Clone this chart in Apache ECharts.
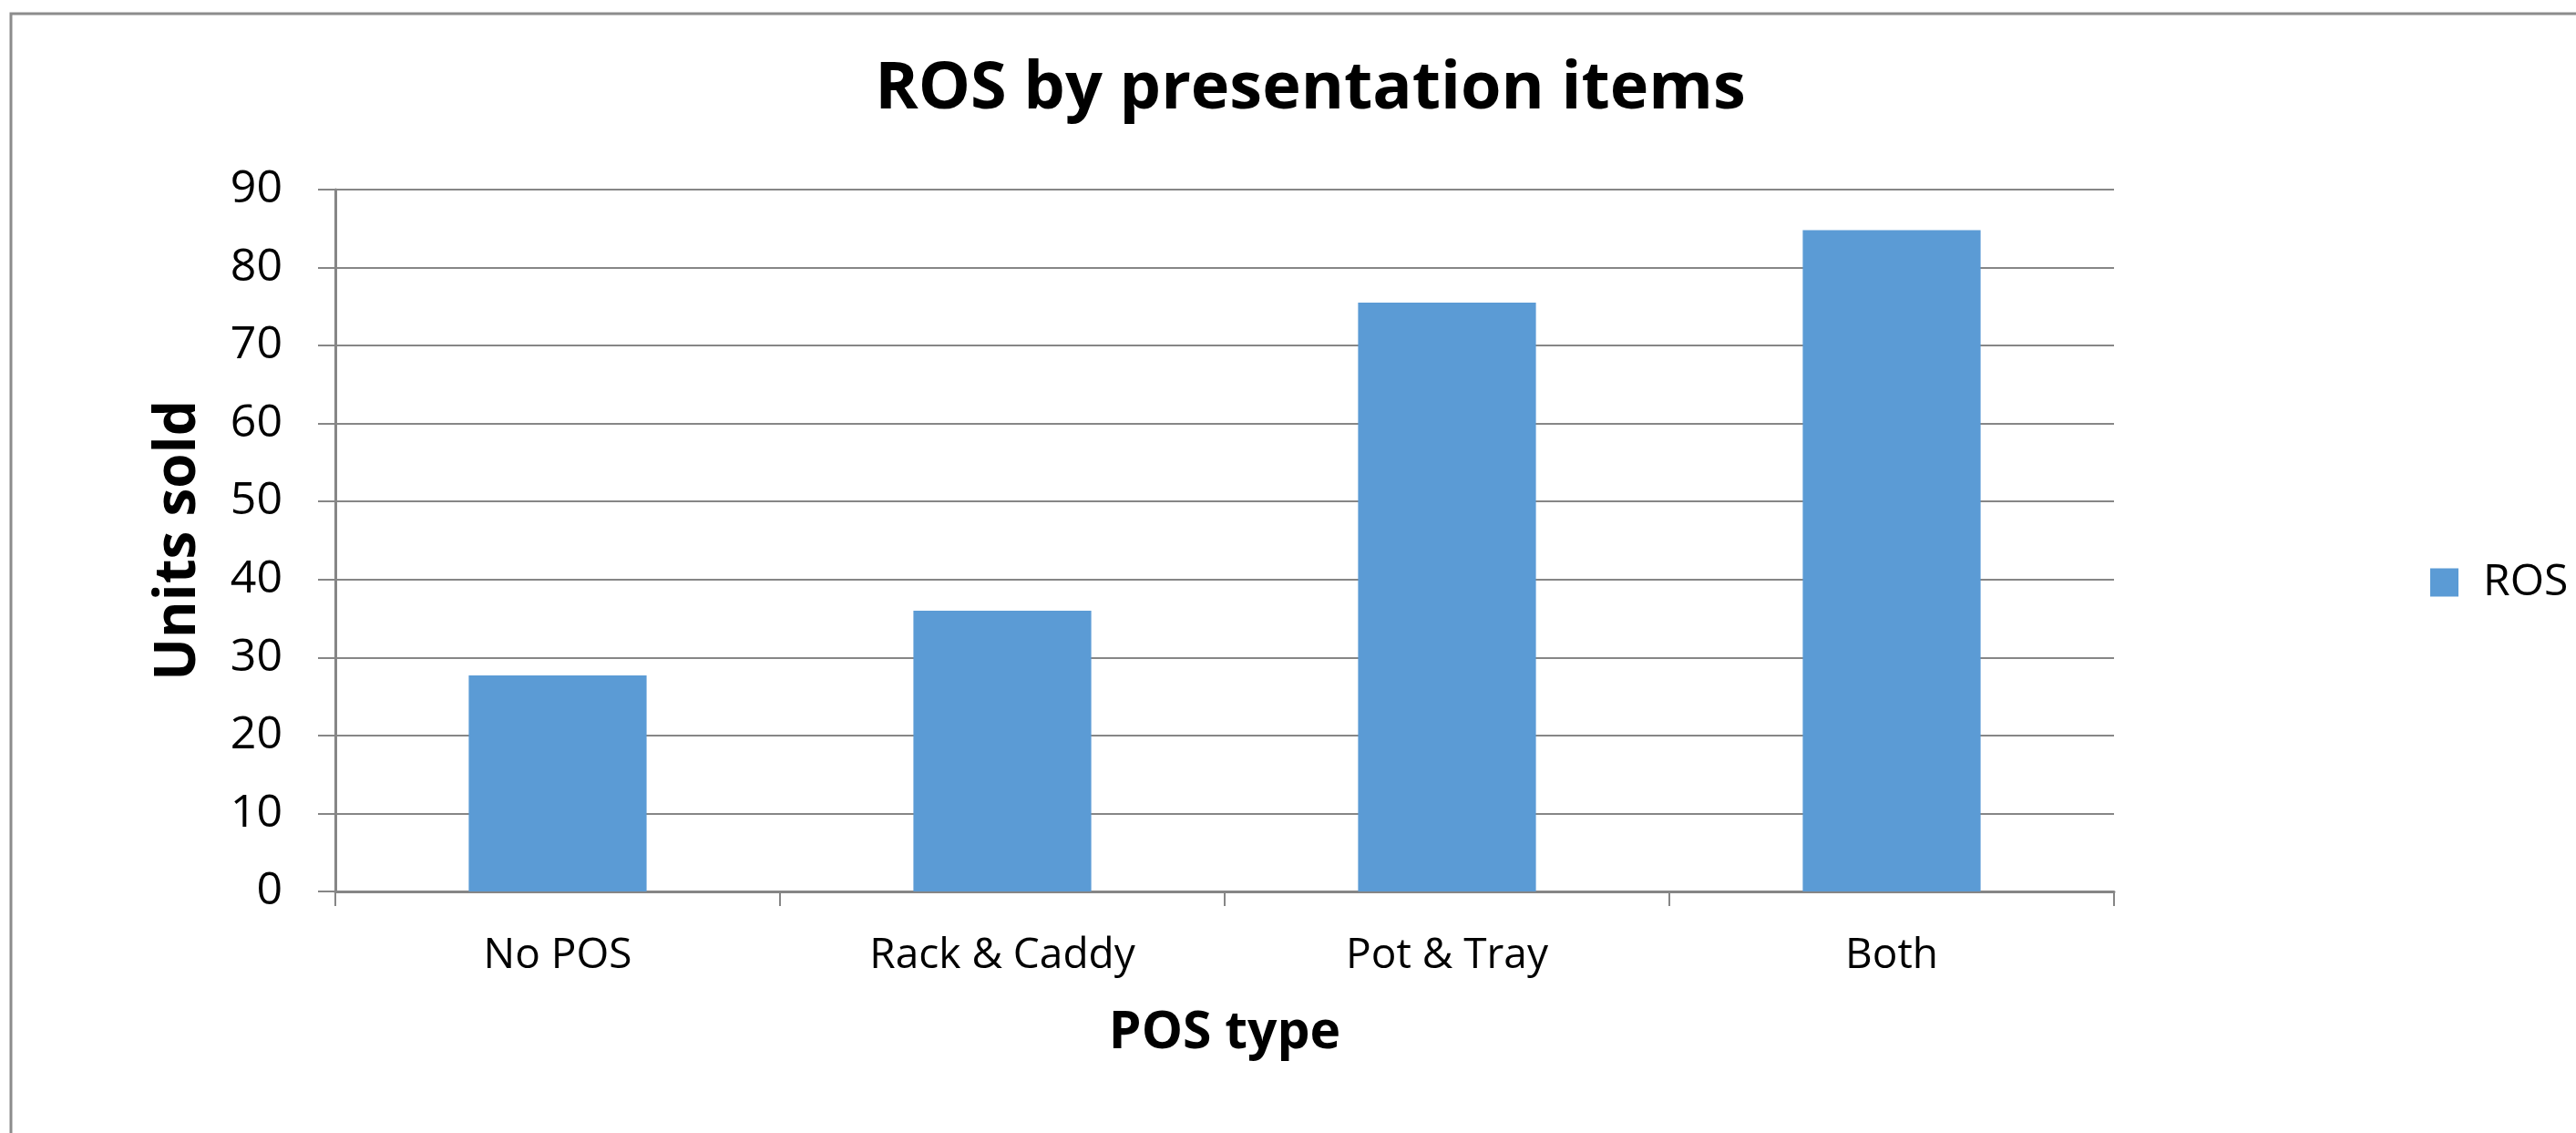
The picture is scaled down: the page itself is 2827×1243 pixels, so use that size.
<!DOCTYPE html>
<html>
<head>
<meta charset="utf-8">
<script src="https://cdn.jsdelivr.net/npm/echarts@6/dist/echarts.min.js"></script>
<style>
html,body{margin:0;padding:0;background:#fff;}
#chart{width:2827px;height:1243px;}
</style>
</head>
<body>
<div id="chart"></div>
<script>
const categories = ['No POS', 'Rack & Caddy', 'Pot & Tray', 'Both'];
const rosValues = [27.7, 36.0, 75.5, 84.8];
const yTicks = [0, 10, 20, 30, 40, 50, 60, 70, 80, 90];

const chart = echarts.init(document.getElementById('chart'));
const FONT = 'Open Sans';
chart.setOption({
  backgroundColor: '#ffffff',
  animation: false,
  graphic: [{
    type: 'rect',
    shape: { x: 12, y: 15, width: 2840, height: 1260 },
    style: { fill: 'none', stroke: '#8c8c8c', lineWidth: 3 },
    silent: true
  }],
  title: {
    text: 'ROS by presentation items',
    left: 1433,
    textAlign: 'center',
    top: 57,
    textStyle: { fontFamily: FONT, fontWeight: 'bold', fontSize: 72, color: '#000' }
  },
  legend: {
    data: ['ROS'],
    left: 2662,
    top: 610,
    itemWidth: 31,
    itemHeight: 31,
    icon: 'rect',
    textStyle: { fontFamily: FONT, fontSize: 48, color: '#000', padding: [0, 0, 0, 22] }
  },
  grid: { left: 368, right: 507, top: 208, bottom: 265, containLabel: false },
  xAxis: {
    type: 'category',
    data: categories,
    name: 'POS type',
    nameLocation: 'middle',
    nameGap: 127,
    nameTextStyle: { fontFamily: FONT, fontWeight: 'bold', fontSize: 57, color: '#000' },
    axisLine: { lineStyle: { color: '#868686', width: 3 } },
    axisTick: { show: true, length: 16, lineStyle: { color: '#868686', width: 2 } },
    axisLabel: { fontFamily: FONT, fontSize: 46, color: '#000', margin: 48 }
  },
  yAxis: {
    type: 'value',
    min: yTicks[0],
    max: yTicks[yTicks.length - 1],
    interval: yTicks[1] - yTicks[0],
    name: 'Units sold',
    nameLocation: 'middle',
    nameRotate: 90,
    nameGap: 141,
    nameTextStyle: { fontFamily: FONT, fontWeight: 'bold', fontSize: 62, color: '#000' },
    axisLine: { show: true, lineStyle: { color: '#868686', width: 3 } },
    axisTick: { show: true, length: 19, lineStyle: { color: '#868686', width: 2 } },
    axisLabel: { fontFamily: FONT, fontSize: 50, color: '#000', margin: 58 },
    splitLine: { show: true, lineStyle: { color: '#868686', width: 2 } }
  },
  series: [{
    name: 'ROS',
    type: 'bar',
    data: rosValues,
    barCategoryGap: '60%',
    itemStyle: { color: '#5B9BD5' }
  }]
});
</script>
</body>
</html>
